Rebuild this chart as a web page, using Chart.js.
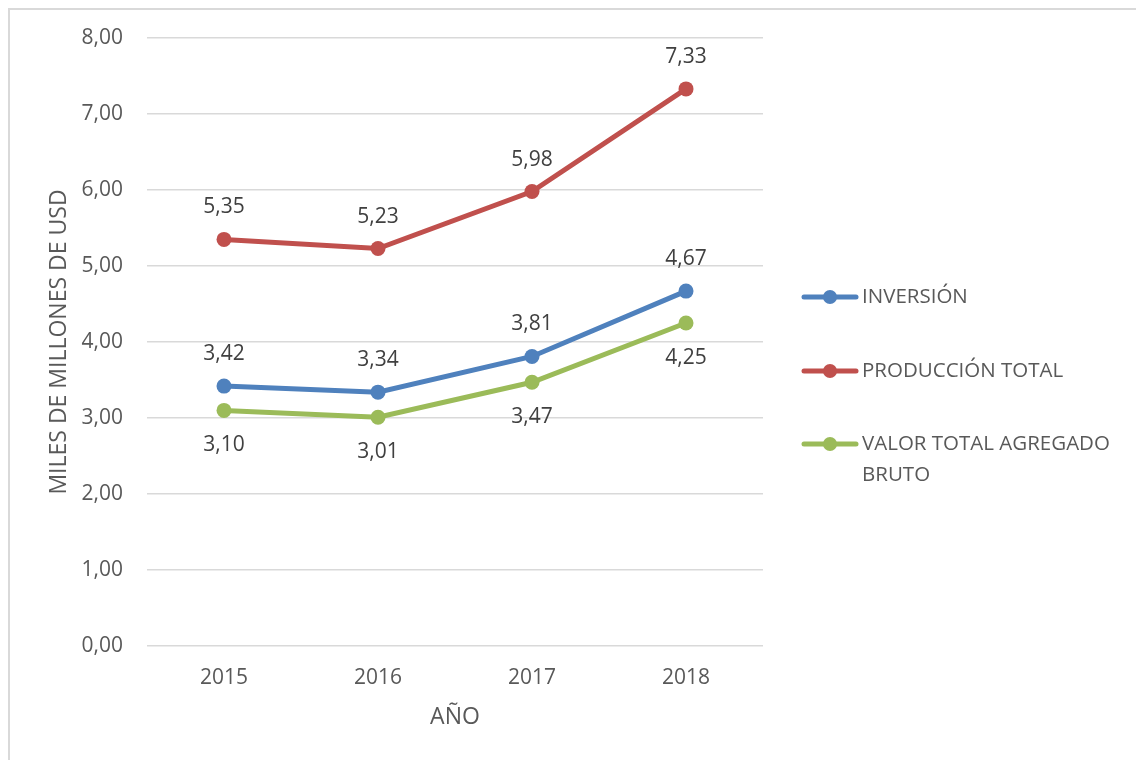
<!DOCTYPE html>
<html lang="es">
<head>
    <meta charset="UTF-8">
    <title>Miles de millones de USD</title>
    <script src="https://cdn.jsdelivr.net/npm/chart.js"></script>
    <style>
        html, body { margin: 0; padding: 0; background: #fff; }
        #wrap { width: 1136px; height: 760px; }
    </style>
</head>
<body>
    <div id="wrap"><canvas id="lineChart" width="1136" height="760"></canvas></div>

    <script>
        // data
        const years = ['2015', '2016', '2017', '2018'];
        const inversion = [3.42, 3.34, 3.81, 4.67];
        const produccion = [5.35, 5.23, 5.98, 7.33];
        const valorAgregado = [3.10, 3.01, 3.47, 4.25];
        const seriesNames = ['INVERSIÓN', 'PRODUCCIÓN TOTAL', ['VALOR TOTAL AGREGADO', 'BRUTO']];
        const labelSide = ['above', 'above', 'below'];

        const FONT = '"Open Sans", "Noto Sans", sans-serif';
        const fmt = v => v.toFixed(2).replace('.', ',');

        // value labels next to each point
        const pointLabels = {
            id: 'pointLabels',
            afterDatasetsDraw(chart) {
                const ctx = chart.ctx;
                ctx.save();
                ctx.font = '21px ' + FONT;
                ctx.fillStyle = '#404040';
                ctx.textAlign = 'center';
                ctx.textBaseline = 'middle';
                chart.data.datasets.forEach((ds, i) => {
                    chart.getDatasetMeta(i).data.forEach((pt, j) => {
                        const dy = labelSide[i] === 'above' ? -32 : 35;
                        ctx.fillText(fmt(ds.data[j]), pt.x, pt.y + dy);
                    });
                });
                ctx.restore();
            }
        };

        // right-hand legend and outer frame
        const sideLegend = {
            id: 'sideLegend',
            afterDraw(chart) {
                const ctx = chart.ctx;
                ctx.save();
                ctx.strokeStyle = '#d9d9d9';
                ctx.lineWidth = 2;
                ctx.strokeRect(9, 9, 1200, 800);

                const ys = [297, 371, 444];
                ctx.font = '20.5px ' + FONT;
                ctx.textBaseline = 'middle';
                ctx.textAlign = 'left';
                chart.data.datasets.forEach((ds, i) => {
                    const y = ys[i];
                    ctx.strokeStyle = ds.borderColor;
                    ctx.lineWidth = 5;
                    ctx.lineCap = 'round';
                    ctx.beginPath();
                    ctx.moveTo(804, y);
                    ctx.lineTo(856, y);
                    ctx.stroke();
                    ctx.fillStyle = ds.borderColor;
                    ctx.beginPath();
                    ctx.arc(830, y, 7, 0, Math.PI * 2);
                    ctx.fill();
                    ctx.fillStyle = '#595959';
                    const lines = [].concat(seriesNames[i]);
                    lines.forEach((t, k) => ctx.fillText(t, 862, y + k * 31));
                });
                ctx.restore();
            }
        };

        function series(label, data, color) {
            return {
                label: label,
                data: data,
                borderColor: color,
                backgroundColor: color,
                borderWidth: 5,
                pointRadius: 7.5,
                pointHoverRadius: 7.5,
                pointBorderWidth: 0,
                tension: 0
            };
        }

        const ctx = document.getElementById('lineChart').getContext('2d');
        new Chart(ctx, {
            type: 'line',
            data: {
                labels: years,
                datasets: [
                    series('INVERSIÓN', inversion, '#4f81bd'),
                    series('PRODUCCIÓN TOTAL', produccion, '#c0504d'),
                    series('VALOR TOTAL AGREGADO BRUTO', valorAgregado, '#9bbb59')
                ]
            },
            options: {
                responsive: false,
                animation: false,
                layout: { padding: { left: 0, right: 373, top: 38, bottom: 0 } },
                plugins: {
                    legend: { display: false },
                    tooltip: { enabled: false }
                },
                scales: {
                    x: {
                        offset: true,
                        grid: { display: false, drawTicks: false },
                        border: { display: false },
                        ticks: { color: '#595959', font: { family: FONT, size: 21 }, padding: 19 },
                        title: {
                            display: true, text: 'AÑO', color: '#595959',
                            font: { family: FONT, size: 23 }, padding: { top: 0, bottom: 29 }
                        },
                        afterFit(scale) { scale.height = 114; }
                    },
                    y: {
                        min: 0, max: 8,
                        ticks: {
                            stepSize: 1, color: '#595959', padding: 24,
                            font: { family: FONT, size: 21 },
                            callback: v => fmt(v)
                        },
                        grid: { color: '#d9d9d9', lineWidth: 1.5, drawTicks: false },
                        border: { display: false },
                        title: {
                            display: true, text: 'MILES DE MILLONES DE USD', color: '#595959',
                            font: { family: FONT, size: 23 }, padding: { top: 46, bottom: 0 }
                        },
                        afterFit(scale) { scale.width = 147; }
                    }
                }
            },
            plugins: [pointLabels, sideLegend]
        });
    </script>
</body>
</html>
